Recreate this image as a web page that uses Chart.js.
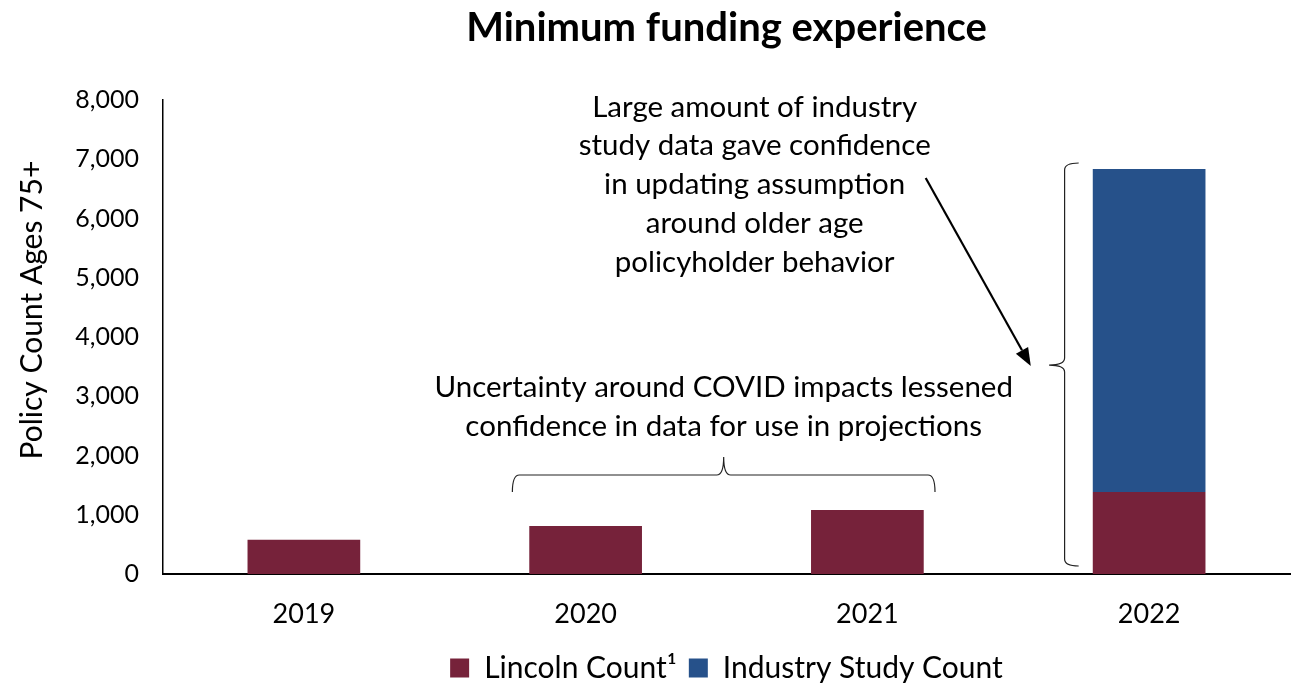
<!DOCTYPE html>
<html>
<head>
<meta charset="utf-8">
<script src="https://cdn.jsdelivr.net/npm/chart.js@4.4.1/dist/chart.umd.min.js"></script>
<style>
    body { margin: 0; background: #fff; }
</style>
</head>
<body>
<canvas id="fundingChart" width="1294" height="693"></canvas>
<script>
// Данные графика
const years = ['2019', '2020', '2021', '2022'];
const lincolnCounts = [580, 810, 1080, 1385];
const industryCounts = [null, null, null, 5450];
const yMax = 8000;
const yStep = 1000;

const noteIndustry = ['Large amount of industry', 'study data gave confidence', 'in updating assumption', 'around older age', 'policyholder behavior'];
const noteCovid = ['Uncertainty around COVID impacts lessened', 'confidence in data for use in projections'];

const maroon = '#76223A';
const blue = '#26518A';
const fontFamily = 'Lato, "Open Sans", sans-serif';

Chart.defaults.font.family = fontFamily;
Chart.defaults.color = '#000';

// Подписи, скобки и стрелка поверх графика
const annotations = {
    id: 'annotations',
    afterDraw(chart) {
        const ctx = chart.ctx;
        const x = chart.scales.x;
        const y = chart.scales.y;
        const px = v => x.getPixelForValue(v);
        const py = v => y.getPixelForValue(v);

        ctx.save();
        ctx.fillStyle = '#000';
        ctx.font = '29.5px ' + fontFamily;
        ctx.textAlign = 'center';
        ctx.textBaseline = 'middle';
        noteIndustry.forEach((line, i) => ctx.fillText(line, px(1.60), py(7880) + i * 38.8));
        noteCovid.forEach((line, i) => ctx.fillText(line, px(1.49), py(3140) + i * 38.5));

        ctx.strokeStyle = '#222';
        ctx.lineWidth = 1.2;

        // горизонтальная скобка над 2020-2021
        const x0 = px(0.74), x1 = px(2.24), xt = px(1.49);
        const yEnd = py(1384), yMid = py(1671), yTip = py(1975);
        const r = 7;
        ctx.beginPath();
        ctx.moveTo(x0, yEnd);
        ctx.quadraticCurveTo(x0, yMid, x0 + r, yMid);
        ctx.lineTo(xt - r, yMid);
        ctx.quadraticCurveTo(xt, yMid, xt, yTip);
        ctx.quadraticCurveTo(xt, yMid, xt + r, yMid);
        ctx.lineTo(x1 - r, yMid);
        ctx.quadraticCurveTo(x1, yMid, x1, yEnd);
        ctx.stroke();

        // вертикальная скобка у 2022
        const bx = px(2.70), bEnd = px(2.75), bTip = px(2.645);
        const yTop = py(6937), yBot = py(135), yCen = py(3527);
        ctx.beginPath();
        ctx.moveTo(bEnd, yTop);
        ctx.quadraticCurveTo(bx, yTop, bx, yTop + r);
        ctx.lineTo(bx, yCen - r);
        ctx.quadraticCurveTo(bx, yCen, bTip, yCen);
        ctx.quadraticCurveTo(bx, yCen, bx, yCen + r);
        ctx.lineTo(bx, yBot - r);
        ctx.quadraticCurveTo(bx, yBot, bEnd, yBot);
        ctx.stroke();

        // стрелка
        const ax0 = px(2.207), ay0 = py(6683), ax1 = px(2.58), ay1 = py(3510);
        const ang = Math.atan2(ay1 - ay0, ax1 - ax0);
        const head = 18, half = 7;
        ctx.strokeStyle = '#000';
        ctx.lineWidth = 2.2;
        ctx.beginPath();
        ctx.moveTo(ax0, ay0);
        ctx.lineTo(ax1 - head * Math.cos(ang), ay1 - head * Math.sin(ang));
        ctx.stroke();
        ctx.beginPath();
        ctx.moveTo(ax1, ay1);
        ctx.lineTo(ax1 - head * Math.cos(ang) + half * Math.sin(ang), ay1 - head * Math.sin(ang) - half * Math.cos(ang));
        ctx.lineTo(ax1 - head * Math.cos(ang) - half * Math.sin(ang), ay1 - head * Math.sin(ang) + half * Math.cos(ang));
        ctx.closePath();
        ctx.fill();
        ctx.restore();
    }
};

const ctx = document.getElementById('fundingChart').getContext('2d');
new Chart(ctx, {
    type: 'bar',
    data: {
        labels: years,
        datasets: [
            {
                label: 'Lincoln Count¹',
                data: lincolnCounts,
                backgroundColor: maroon,
                barPercentage: 0.4,
                categoryPercentage: 1
            },
            {
                label: 'Industry Study Count',
                data: industryCounts,
                backgroundColor: blue,
                barPercentage: 0.4,
                categoryPercentage: 1
            }
        ]
    },
    options: {
        responsive: false,
        animation: false,
        layout: { padding: { left: 0, right: 4, top: 0, bottom: 0 } },
        plugins: {
            title: {
                display: true,
                text: 'Minimum funding experience',
                fullSize: false,
                font: { size: 40, weight: 'bold' },
                padding: { top: 4, bottom: 48 }
            },
            legend: {
                position: 'bottom',
                fullSize: false,
                labels: {
                    boxWidth: 19,
                    boxHeight: 19,
                    font: { size: 30 },
                    padding: 12
                }
            },
            tooltip: { enabled: false }
        },
        scales: {
            x: {
                stacked: true,
                grid: { display: false, drawTicks: false },
                border: { color: '#000', width: 2 },
                ticks: { font: { size: 27 }, padding: 24 },
                afterFit(scale) {
                    scale.height = 67;
                }
            },
            y: {
                stacked: true,
                min: 0,
                max: yMax,
                grid: { display: false, drawTicks: false },
                border: { color: '#000', width: 1.5 },
                ticks: {
                    stepSize: yStep,
                    font: { size: 25 },
                    padding: 24,
                    callback: v => v.toLocaleString('en-US')
                },
                title: {
                    display: true,
                    // пробелы в начале сдвигают подпись вверх, как в оригинале
                    text: '       Policy Count Ages 75+',
                    font: { size: 30 },
                    padding: { top: 14, bottom: 0 }
                },
                afterFit(scale) {
                    scale.width = 163;
                }
            }
        }
    },
    plugins: [annotations]
});
</script>
</body>
</html>
